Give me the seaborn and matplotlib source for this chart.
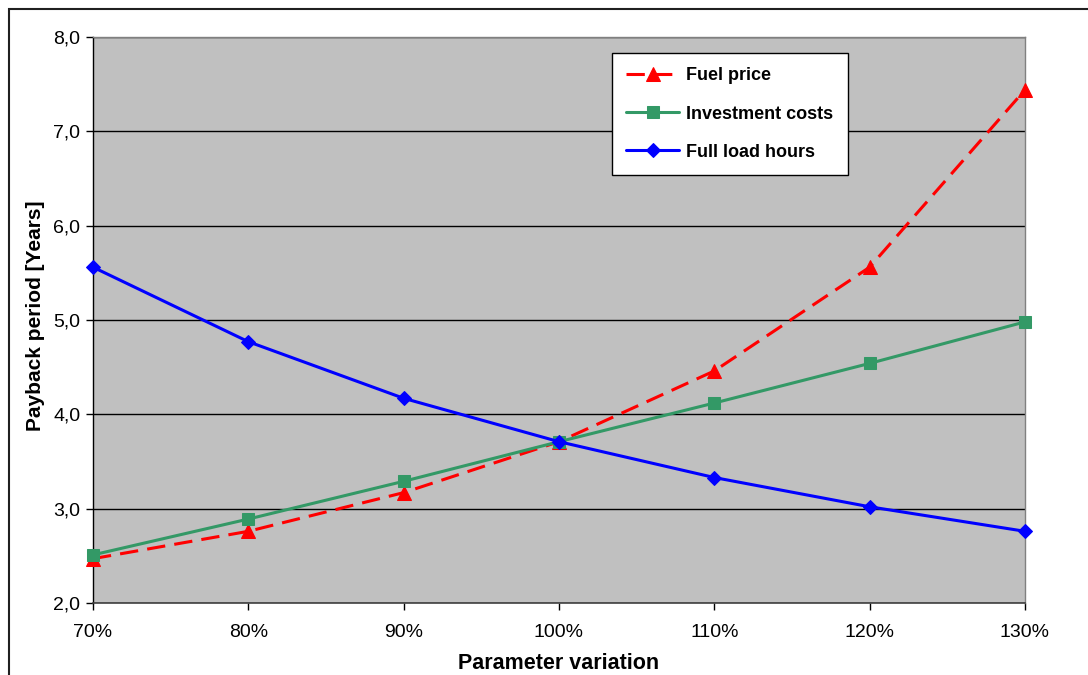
import matplotlib
matplotlib.use("Agg")
import matplotlib.pyplot as plt
from matplotlib.patches import Rectangle
from matplotlib.ticker import FuncFormatter
import seaborn as sns
import pandas as pd

# Sensitivity of the payback period to parameter variation
variation = [70, 80, 90, 100, 110, 120, 130]
fuel_price = [2.47, 2.76, 3.17, 3.71, 4.46, 5.56, 7.44]
investment_costs = [2.51, 2.89, 3.29, 3.71, 4.12, 4.54, 4.98]
full_load_hours = [5.56, 4.77, 4.17, 3.71, 3.33, 3.02, 2.76]

x_ticks = [70, 80, 90, 100, 110, 120, 130]
y_ticks = [2, 3, 4, 5, 6, 7, 8]

sns.set_theme(style="white")
plt.rcParams["font.family"] = ["Liberation Sans", "DejaVu Sans"]
plt.rcParams["text.color"] = "black"
plt.rcParams["axes.labelcolor"] = "black"

fig = plt.figure(figsize=(10.88, 6.75), dpi=100)
ax = fig.add_axes([93 / 1088, 1 - 603 / 675, (1025 - 93) / 1088, (603 - 37) / 675])
ax.set_facecolor("#C0C0C0")

df = pd.DataFrame({
    "variation": variation,
    "Fuel price": fuel_price,
    "Investment costs": investment_costs,
    "Full load hours": full_load_hours,
})

series = [
    ("Fuel price", "#FF0000", "^", 10, (6, 3)),
    ("Investment costs", "#339966", "s", 8, None),
    ("Full load hours", "#0000FF", "D", 7, None),
]
for name, color, marker, msize, dash in series:
    kw = dict(data=df, x="variation", y=name, ax=ax, color=color, marker=marker,
              markersize=msize, markeredgecolor=color, linewidth=2.2, label=name,
              clip_on=False, zorder=3)
    line = sns.lineplot(**kw).lines[-1]
    if dash is not None:
        line.set_dashes(dash)

ax.set_xlim(70, 130)
ax.set_ylim(2, 8)
ax.set_xticks(x_ticks)
ax.set_yticks(y_ticks)
ax.xaxis.set_major_formatter(FuncFormatter(lambda v, p: f"{int(round(v))}%"))
ax.yaxis.set_major_formatter(FuncFormatter(lambda v, p: f"{v:.1f}".replace(".", ",")))

ax.yaxis.grid(True, color="black", linewidth=1.0)
ax.xaxis.grid(False)
ax.set_axisbelow(True)

for side in ["top", "right"]:
    ax.spines[side].set_color("#808080")
    ax.spines[side].set_linewidth(1.0)
ax.spines["left"].set_color("black")
ax.spines["bottom"].set_color("#404040")
ax.spines["left"].set_linewidth(1.0)
ax.spines["bottom"].set_linewidth(1.2)

ax.tick_params(axis="both", which="major", direction="out", length=5, width=1,
               color="black", labelsize=14, labelcolor="black", pad=4,
               left=True, bottom=True)
ax.tick_params(axis="x", pad=10)

ax.set_xlabel("Parameter variation", fontsize=15.5, fontweight="bold", labelpad=9)
ax.set_ylabel("Payback period [Years]", fontsize=15, fontweight="bold")
ax.yaxis.set_label_coords(-48 / 932, 0.507)

leg = ax.legend(loc="upper left", bbox_to_anchor=(612 / 1088, 1 - 53 / 675),
                bbox_transform=fig.transFigure, frameon=True, fancybox=False,
                shadow=False, prop={"weight": "bold", "size": 13},
                handlelength=2.9, handletextpad=0.4, labelspacing=1.17,
                borderpad=0.8, borderaxespad=0)
leg.get_frame().set_edgecolor("black")
leg.get_frame().set_facecolor("white")
leg.get_frame().set_linewidth(1.0)
leg.get_frame().set_alpha(1)
for t in leg.get_texts():
    t.set_color("black")

# Outer chart frame
fig.patches.append(Rectangle((9 / 1088, -0.1), 1.2, 1 - 9 / 675 + 0.1,
                             transform=fig.transFigure, fill=False,
                             edgecolor="#202020", linewidth=1.5))

fig.savefig("out.png", dpi=100, facecolor="white")
